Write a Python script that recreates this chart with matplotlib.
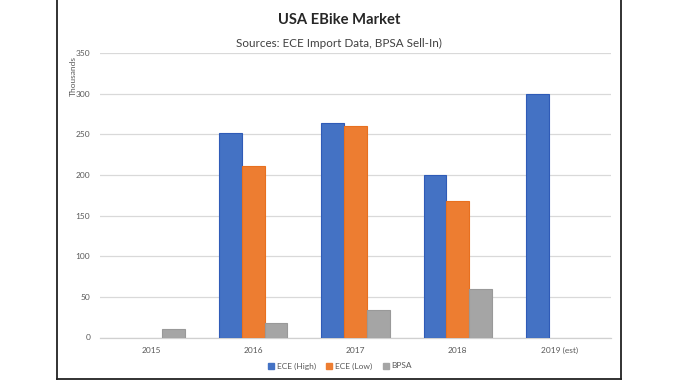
import matplotlib
matplotlib.use("Agg")
import matplotlib.pyplot as plt
import numpy as np
from matplotlib.lines import Line2D

years = ["2015", "2016", "2017", "2018", "2019 (est)"]
ece_high = [np.nan, 251, 264, 200, 300]
ece_low = [np.nan, 211, 260, 168, np.nan]
bpsa = [10, 18, 34, 60, np.nan]
series_names = ["ECE (High)", "ECE (Low)", "BPSA"]
colors = ["#4472C4", "#ED7D31", "#A5A5A5"]
edges = ["#2F5BB7", "#E8701F", "#999999"]

plt.rcParams['font.family'] = ['Lato', 'DejaVu Sans']

fig = plt.figure(figsize=(6.76, 3.8), dpi=100)
ax = fig.add_axes([100/676, 1-337.5/380, 511/676, (337.5-53)/380])

x = np.arange(len(years))
w = 0.222
for i, (vals, c, e, name) in enumerate(zip([ece_high, ece_low, bpsa], colors, edges, series_names)):
    ax.bar(x + (i-1)*w, vals, width=w, color=c, edgecolor=e, linewidth=0.8, label=name, zorder=3)

ax.set_xlim(-0.5, 4.5)
ax.set_ylim(0, 350)
ax.set_yticks(range(0, 351, 50))
ax.set_xticks(x)
ax.set_xticklabels(years)
ax.grid(axis='y', color='#D9D9D9', linewidth=0.9, zorder=0)
for s in ['top', 'right', 'left']:
    ax.spines[s].set_visible(False)
ax.spines['bottom'].set_color('#D0D0D0')
ax.spines['bottom'].set_linewidth(0.9)
ax.tick_params(axis='both', length=0, labelsize=6, colors='#595959')
ax.tick_params(axis='y', pad=7)
ax.tick_params(axis='x', pad=7)

fig.text(73/676, 1-76/380, "Thousands", rotation=90, ha='center', va='center', fontsize=6, color='#595959')
fig.text(339/676, 1-20/380, "USA EBike Market", ha='center', va='center', fontsize=10.6, fontweight='bold', color='#262626')
fig.text(339/676, 1-43/380, "Sources: ECE Import Data, BPSA Sell-In)", ha='center', va='center', fontsize=8.4, color='#404040')

handles = [Line2D([0], [0], marker='s', linestyle='none', markersize=4, markerfacecolor=c, markeredgecolor=c) for c in colors]
fig.legend(handles, series_names, loc='center', bbox_to_anchor=(340/676, 1-366/380), ncol=3, frameon=False,
           fontsize=6, handlelength=0.8, handletextpad=0.3, columnspacing=1.2, labelcolor='#595959')

# figure border
bx0, bx1, by = 56.5/676, 621/676, 1.5/380
fig.add_artist(Line2D([bx0, bx0], [by, 1.02], transform=fig.transFigure, color='#222222', linewidth=1.3))
fig.add_artist(Line2D([bx1, bx1], [by, 1.02], transform=fig.transFigure, color='#222222', linewidth=1.3))
fig.add_artist(Line2D([bx0, bx1], [by, by], transform=fig.transFigure, color='#222222', linewidth=1.3))

fig.savefig("out.png", dpi=100, facecolor='white')
